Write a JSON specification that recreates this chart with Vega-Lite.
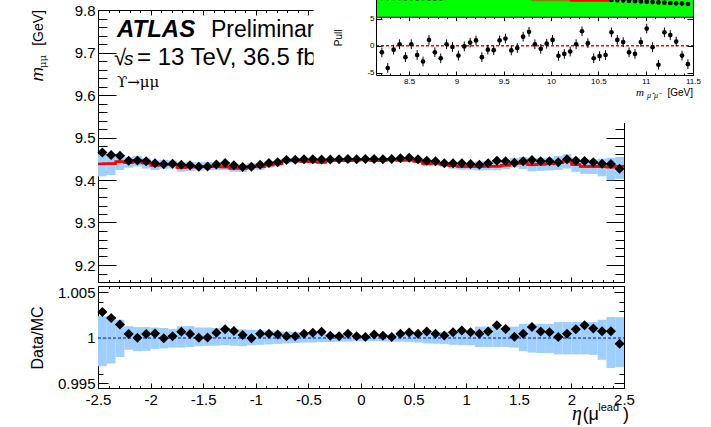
{
  "$schema": "https://vega.github.io/schema/vega-lite/v6.json",
  "width": 526,
  "height": 378,
  "autosize": "none",
  "padding": {"left": 98, "top": 10, "right": 87, "bottom": 39},
  "background": "white",
  "config": {
    "view": {"stroke": null},
    "axis": {"labelFont": "Liberation Sans", "labelColor": "#000", "domainColor": "#000", "tickColor": "#000", "grid": false, "labelFlush": false, "labelOverlap": false, "domainWidth": 1, "tickWidth": 1}
  },
  "datasets": {
    "bins": [
      {"eta": -2.4583, "lo": -2.5, "hi": -2.4167, "d": 9.465, "mc": 9.438, "blo": 9.4087, "bhi": 9.4607, "r": 1.00286, "rlo": 0.9969, "rhi": 1.0024},
      {"eta": -2.375, "lo": -2.4167, "hi": -2.3333, "d": 9.459, "mc": 9.4382, "blo": 9.4118, "bhi": 9.4609, "r": 1.0022, "rlo": 0.9972, "rhi": 1.0024},
      {"eta": -2.2917, "lo": -2.3333, "hi": -2.25, "d": 9.457, "mc": 9.4431, "blo": 9.4233, "bhi": 9.462, "r": 1.00147, "rlo": 0.9979, "rhi": 1.002},
      {"eta": -2.2083, "lo": -2.25, "hi": -2.1667, "d": 9.4454, "mc": 9.4412, "blo": 9.4289, "bhi": 9.4535, "r": 1.00045, "rlo": 0.9987, "rhi": 1.0013},
      {"eta": -2.125, "lo": -2.1667, "hi": -2.0833, "d": 9.446, "mc": 9.4456, "blo": 9.4319, "bhi": 9.4569, "r": 1.00004, "rlo": 0.99855, "rhi": 1.0012},
      {"eta": -2.0417, "lo": -2.0833, "hi": -2.0, "d": 9.4443, "mc": 9.4401, "blo": 9.4269, "bhi": 9.4514, "r": 1.00044, "rlo": 0.9986, "rhi": 1.0012},
      {"eta": -1.9583, "lo": -2.0, "hi": -1.9167, "d": 9.4393, "mc": 9.4346, "blo": 9.4233, "bhi": 9.4455, "r": 1.0005, "rlo": 0.9988, "rhi": 1.00115},
      {"eta": -1.875, "lo": -1.9167, "hi": -1.8333, "d": 9.437, "mc": 9.4373, "blo": 9.4264, "bhi": 9.4477, "r": 0.99997, "rlo": 0.99885, "rhi": 1.0011},
      {"eta": -1.7917, "lo": -1.8333, "hi": -1.75, "d": 9.4385, "mc": 9.4366, "blo": 9.4267, "bhi": 9.446, "r": 1.0002, "rlo": 0.99895, "rhi": 1.001},
      {"eta": -1.7083, "lo": -1.75, "hi": -1.6667, "d": 9.436, "mc": 9.4294, "blo": 9.4195, "bhi": 9.4417, "r": 1.0007, "rlo": 0.99895, "rhi": 1.0013},
      {"eta": -1.625, "lo": -1.6667, "hi": -1.5833, "d": 9.4347, "mc": 9.4305, "blo": 9.4211, "bhi": 9.4428, "r": 1.00045, "rlo": 0.999, "rhi": 1.0013},
      {"eta": -1.5417, "lo": -1.5833, "hi": -1.5, "d": 9.4313, "mc": 9.4309, "blo": 9.4224, "bhi": 9.4418, "r": 1.00004, "rlo": 0.9991, "rhi": 1.00115},
      {"eta": -1.4583, "lo": -1.5, "hi": -1.4167, "d": 9.432, "mc": 9.4315, "blo": 9.4235, "bhi": 9.4424, "r": 1.00005, "rlo": 0.99915, "rhi": 1.00115},
      {"eta": -1.375, "lo": -1.4167, "hi": -1.3333, "d": 9.4365, "mc": 9.4311, "blo": 9.4231, "bhi": 9.4415, "r": 1.00057, "rlo": 0.99915, "rhi": 1.0011},
      {"eta": -1.2917, "lo": -1.3333, "hi": -1.25, "d": 9.44, "mc": 9.4308, "blo": 9.4232, "bhi": 9.4412, "r": 1.00097, "rlo": 0.9992, "rhi": 1.0011},
      {"eta": -1.2083, "lo": -1.25, "hi": -1.1667, "d": 9.4347, "mc": 9.4274, "blo": 9.4194, "bhi": 9.4368, "r": 1.00077, "rlo": 0.99915, "rhi": 1.001},
      {"eta": -1.125, "lo": -1.1667, "hi": -1.0833, "d": 9.4306, "mc": 9.4275, "blo": 9.419, "bhi": 9.4365, "r": 1.00033, "rlo": 0.9991, "rhi": 1.00095},
      {"eta": -1.0417, "lo": -1.0833, "hi": -1.0, "d": 9.4313, "mc": 9.4316, "blo": 9.424, "bhi": 9.4401, "r": 0.99997, "rlo": 0.9992, "rhi": 1.0009},
      {"eta": -0.9583, "lo": -1.0, "hi": -0.9167, "d": 9.4357, "mc": 9.4312, "blo": 9.4241, "bhi": 9.4392, "r": 1.00048, "rlo": 0.99925, "rhi": 1.00085},
      {"eta": -0.875, "lo": -0.9167, "hi": -0.8333, "d": 9.44, "mc": 9.4355, "blo": 9.4289, "bhi": 9.4431, "r": 1.00048, "rlo": 0.9993, "rhi": 1.0008},
      {"eta": -0.7917, "lo": -0.8333, "hi": -0.75, "d": 9.442, "mc": 9.4384, "blo": 9.4323, "bhi": 9.4455, "r": 1.00038, "rlo": 0.99935, "rhi": 1.00075},
      {"eta": -0.7083, "lo": -0.75, "hi": -0.6667, "d": 9.447, "mc": 9.4451, "blo": 9.4394, "bhi": 9.4517, "r": 1.0002, "rlo": 0.9994, "rhi": 1.0007},
      {"eta": -0.625, "lo": -0.6667, "hi": -0.5833, "d": 9.4475, "mc": 9.4458, "blo": 9.4406, "bhi": 9.4519, "r": 1.00018, "rlo": 0.99945, "rhi": 1.00065},
      {"eta": -0.5417, "lo": -0.5833, "hi": -0.5, "d": 9.4486, "mc": 9.4441, "blo": 9.4394, "bhi": 9.4498, "r": 1.00048, "rlo": 0.9995, "rhi": 1.0006},
      {"eta": -0.4583, "lo": -0.5, "hi": -0.4167, "d": 9.4488, "mc": 9.4432, "blo": 9.4385, "bhi": 9.4484, "r": 1.00059, "rlo": 0.9995, "rhi": 1.00055},
      {"eta": -0.375, "lo": -0.4167, "hi": -0.3333, "d": 9.4483, "mc": 9.4417, "blo": 9.4375, "bhi": 9.4464, "r": 1.0007, "rlo": 0.99955, "rhi": 1.0005},
      {"eta": -0.2917, "lo": -0.3333, "hi": -0.25, "d": 9.448, "mc": 9.4457, "blo": 9.4415, "bhi": 9.4499, "r": 1.00024, "rlo": 0.99955, "rhi": 1.00045},
      {"eta": -0.2083, "lo": -0.25, "hi": -0.1667, "d": 9.4486, "mc": 9.4469, "blo": 9.4431, "bhi": 9.4511, "r": 1.00018, "rlo": 0.9996, "rhi": 1.00045},
      {"eta": -0.125, "lo": -0.1667, "hi": -0.0833, "d": 9.4496, "mc": 9.4453, "blo": 9.4415, "bhi": 9.4491, "r": 1.00046, "rlo": 0.9996, "rhi": 1.0004},
      {"eta": -0.0417, "lo": -0.0833, "hi": 0.0, "d": 9.449, "mc": 9.4473, "blo": 9.444, "bhi": 9.4506, "r": 1.00018, "rlo": 0.99965, "rhi": 1.00035},
      {"eta": 0.0417, "lo": 0.0, "hi": 0.0833, "d": 9.4494, "mc": 9.4484, "blo": 9.4451, "bhi": 9.4517, "r": 1.00011, "rlo": 0.99965, "rhi": 1.00035},
      {"eta": 0.125, "lo": 0.0833, "hi": 0.1667, "d": 9.4494, "mc": 9.4458, "blo": 9.4425, "bhi": 9.4491, "r": 1.00038, "rlo": 0.99965, "rhi": 1.00035},
      {"eta": 0.2083, "lo": 0.1667, "hi": 0.25, "d": 9.4486, "mc": 9.4462, "blo": 9.4427, "bhi": 9.4497, "r": 1.00025, "rlo": 0.99963, "rhi": 1.00037},
      {"eta": 0.2917, "lo": 0.25, "hi": 0.3333, "d": 9.4494, "mc": 9.4484, "blo": 9.4446, "bhi": 9.4522, "r": 1.00011, "rlo": 0.9996, "rhi": 1.0004},
      {"eta": 0.375, "lo": 0.3333, "hi": 0.4167, "d": 9.451, "mc": 9.4467, "blo": 9.4429, "bhi": 9.4507, "r": 1.00046, "rlo": 0.9996, "rhi": 1.00042},
      {"eta": 0.4583, "lo": 0.4167, "hi": 0.5, "d": 9.4525, "mc": 9.4468, "blo": 9.4426, "bhi": 9.451, "r": 1.0006, "rlo": 0.99955, "rhi": 1.00045},
      {"eta": 0.5417, "lo": 0.5, "hi": 0.5833, "d": 9.4486, "mc": 9.4443, "blo": 9.4396, "bhi": 9.449, "r": 1.00046, "rlo": 0.9995, "rhi": 1.0005},
      {"eta": 0.625, "lo": 0.5833, "hi": 0.6667, "d": 9.4454, "mc": 9.4386, "blo": 9.4329, "bhi": 9.4443, "r": 1.00072, "rlo": 0.9994, "rhi": 1.0006},
      {"eta": 0.7083, "lo": 0.6667, "hi": 0.75, "d": 9.444, "mc": 9.4395, "blo": 9.4336, "bhi": 9.4454, "r": 1.00048, "rlo": 0.99938, "rhi": 1.00062},
      {"eta": 0.7917, "lo": 0.75, "hi": 0.8333, "d": 9.4393, "mc": 9.4368, "blo": 9.4307, "bhi": 9.4429, "r": 1.00027, "rlo": 0.99935, "rhi": 1.00065},
      {"eta": 0.875, "lo": 0.8333, "hi": 0.9167, "d": 9.4393, "mc": 9.4333, "blo": 9.4262, "bhi": 9.4399, "r": 1.00064, "rlo": 0.99925, "rhi": 1.0007},
      {"eta": 0.9583, "lo": 0.9167, "hi": 1.0, "d": 9.4393, "mc": 9.4316, "blo": 9.4242, "bhi": 9.4387, "r": 1.00082, "rlo": 0.99922, "rhi": 1.00075},
      {"eta": 1.0417, "lo": 1.0, "hi": 1.0833, "d": 9.4376, "mc": 9.4316, "blo": 9.424, "bhi": 9.4392, "r": 1.00064, "rlo": 0.9992, "rhi": 1.0008},
      {"eta": 1.125, "lo": 1.0833, "hi": 1.1667, "d": 9.436, "mc": 9.4317, "blo": 9.4223, "bhi": 9.4435, "r": 1.00046, "rlo": 0.999, "rhi": 1.00125},
      {"eta": 1.2083, "lo": 1.1667, "hi": 1.25, "d": 9.4393, "mc": 9.4325, "blo": 9.4231, "bhi": 9.4443, "r": 1.00072, "rlo": 0.999, "rhi": 1.00125},
      {"eta": 1.2917, "lo": 1.25, "hi": 1.3333, "d": 9.4454, "mc": 9.4323, "blo": 9.4229, "bhi": 9.4441, "r": 1.00139, "rlo": 0.999, "rhi": 1.00125},
      {"eta": 1.375, "lo": 1.3333, "hi": 1.4167, "d": 9.444, "mc": 9.4347, "blo": 9.4253, "bhi": 9.4465, "r": 1.00099, "rlo": 0.999, "rhi": 1.00125},
      {"eta": 1.4583, "lo": 1.4167, "hi": 1.5, "d": 9.4407, "mc": 9.4395, "blo": 9.4296, "bhi": 9.4513, "r": 1.00013, "rlo": 0.99895, "rhi": 1.00125},
      {"eta": 1.5417, "lo": 1.5, "hi": 1.5833, "d": 9.444, "mc": 9.4395, "blo": 9.4258, "bhi": 9.4541, "r": 1.00048, "rlo": 0.99855, "rhi": 1.00155},
      {"eta": 1.625, "lo": 1.5833, "hi": 1.6667, "d": 9.447, "mc": 9.4356, "blo": 9.4205, "bhi": 9.4502, "r": 1.00121, "rlo": 0.9984, "rhi": 1.00155},
      {"eta": 1.7083, "lo": 1.6667, "hi": 1.75, "d": 9.444, "mc": 9.4372, "blo": 9.4216, "bhi": 9.4518, "r": 1.00072, "rlo": 0.99835, "rhi": 1.00155},
      {"eta": 1.7917, "lo": 1.75, "hi": 1.8333, "d": 9.444, "mc": 9.438, "blo": 9.4224, "bhi": 9.4526, "r": 1.00064, "rlo": 0.99835, "rhi": 1.00155},
      {"eta": 1.875, "lo": 1.8333, "hi": 1.9167, "d": 9.4416, "mc": 9.4406, "blo": 9.4236, "bhi": 9.4571, "r": 1.00011, "rlo": 0.9982, "rhi": 1.00175},
      {"eta": 1.9583, "lo": 1.9167, "hi": 2.0, "d": 9.4486, "mc": 9.4441, "blo": 9.4271, "bhi": 9.4606, "r": 1.00048, "rlo": 0.9982, "rhi": 1.00175},
      {"eta": 2.0417, "lo": 2.0, "hi": 2.0833, "d": 9.4454, "mc": 9.4363, "blo": 9.4193, "bhi": 9.4528, "r": 1.00097, "rlo": 0.9982, "rhi": 1.00175},
      {"eta": 2.125, "lo": 2.0833, "hi": 2.1667, "d": 9.4447, "mc": 9.4316, "blo": 9.4146, "bhi": 9.4481, "r": 1.00139, "rlo": 0.9982, "rhi": 1.00175},
      {"eta": 2.2083, "lo": 2.1667, "hi": 2.25, "d": 9.4416, "mc": 9.4317, "blo": 9.4142, "bhi": 9.4482, "r": 1.00105, "rlo": 0.99815, "rhi": 1.00175},
      {"eta": 2.2917, "lo": 2.25, "hi": 2.3333, "d": 9.4384, "mc": 9.4313, "blo": 9.4086, "bhi": 9.4502, "r": 1.00075, "rlo": 0.9976, "rhi": 1.002},
      {"eta": 2.375, "lo": 2.3333, "hi": 2.4167, "d": 9.4376, "mc": 9.4305, "blo": 9.3993, "bhi": 9.4522, "r": 1.00075, "rlo": 0.9967, "rhi": 1.0023},
      {"eta": 2.4583, "lo": 2.4167, "hi": 2.5, "d": 9.4266, "mc": 9.4325, "blo": 9.4023, "bhi": 9.4542, "r": 0.99938, "rlo": 0.9968, "rhi": 1.0023}
    ],
    "pull": [
      {"x": 8.212, "p": -1.2, "e": 0.9}, {"x": 8.274, "p": -4.1, "e": 0.9}, {"x": 8.336, "p": -0.7, "e": 0.9},
      {"x": 8.399, "p": 0.3, "e": 0.9}, {"x": 8.461, "p": -2.1, "e": 0.9}, {"x": 8.523, "p": 0.3, "e": 0.9},
      {"x": 8.585, "p": -1.7, "e": 0.9}, {"x": 8.647, "p": -2.9, "e": 0.9}, {"x": 8.71, "p": 1.1, "e": 0.9},
      {"x": 8.772, "p": -1.2, "e": 0.9}, {"x": 8.834, "p": -2.3, "e": 0.9}, {"x": 8.896, "p": 0.3, "e": 0.9},
      {"x": 8.958, "p": -0.2, "e": 0.9}, {"x": 9.021, "p": -1.8, "e": 0.9}, {"x": 9.083, "p": -0.1, "e": 0.9},
      {"x": 9.145, "p": 0.6, "e": 0.9}, {"x": 9.207, "p": 1.0, "e": 0.9}, {"x": 9.269, "p": -2.1, "e": 0.9},
      {"x": 9.332, "p": -0.7, "e": 0.9}, {"x": 9.394, "p": -0.8, "e": 0.9}, {"x": 9.456, "p": 1.0, "e": 0.9},
      {"x": 9.518, "p": 1.35, "e": 0.9}, {"x": 9.58, "p": -0.85, "e": 0.9}, {"x": 9.643, "p": -0.4, "e": 0.9},
      {"x": 9.705, "p": 1.7, "e": 0.9}, {"x": 9.767, "p": 2.6, "e": 0.9}, {"x": 9.829, "p": 0.3, "e": 0.9},
      {"x": 9.891, "p": -0.55, "e": 0.9}, {"x": 9.954, "p": 0.4, "e": 0.9}, {"x": 10.016, "p": 1.1, "e": 0.9},
      {"x": 10.078, "p": -1.85, "e": 0.9}, {"x": 10.14, "p": -1.5, "e": 0.9}, {"x": 10.202, "p": -1.05, "e": 0.9},
      {"x": 10.265, "p": 0.3, "e": 0.9}, {"x": 10.327, "p": 2.7, "e": 0.9}, {"x": 10.389, "p": 0.5, "e": 0.9},
      {"x": 10.451, "p": -2.3, "e": 0.9}, {"x": 10.513, "p": -1.9, "e": 0.9}, {"x": 10.576, "p": -1.7, "e": 0.9},
      {"x": 10.638, "p": 2.5, "e": 0.9}, {"x": 10.7, "p": 1.1, "e": 0.9}, {"x": 10.762, "p": 0.7, "e": 0.9},
      {"x": 10.824, "p": -1.2, "e": 0.9}, {"x": 10.887, "p": -1.5, "e": 0.9}, {"x": 10.949, "p": 0.7, "e": 0.9},
      {"x": 11.011, "p": 3.2, "e": 0.9}, {"x": 11.073, "p": -0.25, "e": 0.9}, {"x": 11.135, "p": -3.5, "e": 0.9},
      {"x": 11.198, "p": 2.5, "e": 0.9}, {"x": 11.26, "p": 2.0, "e": 0.9}, {"x": 11.322, "p": 0.8, "e": 0.9},
      {"x": 11.384, "p": -1.8, "e": 0.9}, {"x": 11.446, "p": -3.4, "e": 0.9}
    ],
    "mass": [
      {"x": 8.212, "n": 94}, {"x": 8.274, "n": 93}, {"x": 8.336, "n": 94}, {"x": 8.399, "n": 93},
      {"x": 8.461, "n": 92}, {"x": 8.523, "n": 93}, {"x": 8.585, "n": 92}, {"x": 8.647, "n": 93},
      {"x": 8.71, "n": 92}, {"x": 8.772, "n": 91}, {"x": 8.834, "n": 92}, {"x": 8.896, "n": 100},
      {"x": 8.958, "n": 110}, {"x": 9.021, "n": 125}, {"x": 9.083, "n": 150}, {"x": 9.145, "n": 200},
      {"x": 9.207, "n": 300}, {"x": 9.269, "n": 450}, {"x": 9.332, "n": 600}, {"x": 9.394, "n": 700},
      {"x": 9.456, "n": 650}, {"x": 9.518, "n": 500}, {"x": 9.58, "n": 350}, {"x": 9.643, "n": 260},
      {"x": 9.705, "n": 220}, {"x": 9.767, "n": 250}, {"x": 9.829, "n": 320}, {"x": 9.891, "n": 350},
      {"x": 9.954, "n": 300}, {"x": 10.016, "n": 220}, {"x": 10.078, "n": 180}, {"x": 10.14, "n": 170},
      {"x": 10.202, "n": 200}, {"x": 10.265, "n": 230}, {"x": 10.327, "n": 190}, {"x": 10.389, "n": 140},
      {"x": 10.451, "n": 110}, {"x": 10.513, "n": 100}, {"x": 10.576, "n": 95}, {"x": 10.638, "n": 83.5},
      {"x": 10.7, "n": 82}, {"x": 10.762, "n": 80.5}, {"x": 10.824, "n": 79}, {"x": 10.887, "n": 77.5},
      {"x": 10.949, "n": 76}, {"x": 11.011, "n": 74.5}, {"x": 11.073, "n": 73}, {"x": 11.135, "n": 71.5},
      {"x": 11.198, "n": 70}, {"x": 11.26, "n": 68.5}, {"x": 11.322, "n": 67}, {"x": 11.384, "n": 65.5},
      {"x": 11.446, "n": 63.5}
    ]
  },
  "layer": [
    {
      "data": {"name": "bins"},
      "layer": [
        {
          "mark": {"type": "rect", "color": "#9ecfff"},
          "encoding": {
            "x": {"field": "lo", "type": "quantitative", "scale": {"domain": [-2.5, 2.5], "range": [0, 526], "nice": false, "zero": false},
                  "axis": {"orient": "bottom", "offset": -106, "values": [-2.5, -2, -1.5, -1, -0.5, 0, 0.5, 1, 1.5, 2, 2.5], "tickSize": -5, "labels": false, "domain": true, "title": null, "zindex": 0}},
            "x2": {"field": "hi"},
            "y": {"field": "blo", "type": "quantitative", "scale": {"domain": [9.16, 9.8], "range": [272, 0], "nice": false, "zero": false},
                  "axis": {"orient": "left", "values": [9.2, 9.3, 9.4, 9.5, 9.6, 9.7, 9.8], "ticks": false, "labelPadding": 3, "labelFontSize": 15, "format": ".1f", "domain": true, "title": null, "zindex": 0}},
            "y2": {"field": "bhi"}
          }
        },
        {
          "mark": {"type": "line", "color": "#ff0000", "strokeWidth": 2.5, "interpolate": "step"},
          "encoding": {
            "x": {"field": "eta", "type": "quantitative",
                  "axis": {"orient": "bottom", "offset": -106, "values": [-2.5, -2.4, -2.3, -2.2, -2.1, -2, -1.9, -1.8, -1.7, -1.6, -1.5, -1.4, -1.3, -1.2, -1.1, -1, -0.9, -0.8, -0.7, -0.6, -0.5, -0.4, -0.3, -0.2, -0.1, 0, 0.1, 0.2, 0.3, 0.4, 0.5, 0.6, 0.7, 0.8, 0.9, 1, 1.1, 1.2, 1.3, 1.4, 1.5, 1.6, 1.7, 1.8, 1.9, 2, 2.1, 2.2, 2.3, 2.4, 2.5], "tickSize": -2.5, "labels": false, "domain": false, "title": null, "zindex": 0}},
            "y": {"field": "mc", "type": "quantitative",
                  "axis": {"orient": "left", "values": [9.2, 9.3, 9.4, 9.5, 9.6, 9.7, 9.8], "tickSize": -18, "labels": false, "domain": false, "title": null, "zindex": 0}}
          }
        },
        {
          "mark": {"type": "rule", "color": "#ff0000", "strokeWidth": 2.5},
          "encoding": {
            "x": {"field": "lo", "type": "quantitative",
                  "axis": {"orient": "top", "values": [-2.5, -2, -1.5, -1, -0.5, 0, 0.5, 1, 1.5, 2, 2.5], "tickSize": -5, "labels": false, "domain": true, "title": null, "zindex": 0}},
            "x2": {"field": "hi"},
            "y": {"field": "mc", "type": "quantitative",
                  "axis": {"orient": "left", "values": [9.16, 9.18, 9.2, 9.22, 9.24, 9.26, 9.28, 9.3, 9.32, 9.34, 9.36, 9.38, 9.4, 9.42, 9.44, 9.46, 9.48, 9.5, 9.52, 9.54, 9.56, 9.58, 9.6, 9.62, 9.64, 9.66, 9.68, 9.7, 9.72, 9.74, 9.76, 9.78, 9.8], "tickSize": -9, "labels": false, "domain": false, "title": null, "zindex": 0}}
          }
        },
        {
          "mark": {"type": "rule", "color": "#000000", "strokeWidth": 1.2},
          "encoding": {
            "x": {"field": "lo", "type": "quantitative",
                  "axis": {"orient": "top", "values": [-2.5, -2.4, -2.3, -2.2, -2.1, -2, -1.9, -1.8, -1.7, -1.6, -1.5, -1.4, -1.3, -1.2, -1.1, -1, -0.9, -0.8, -0.7, -0.6, -0.5, -0.4, -0.3, -0.2, -0.1, 0, 0.1, 0.2, 0.3, 0.4, 0.5, 0.6, 0.7, 0.8, 0.9, 1, 1.1, 1.2, 1.3, 1.4, 1.5, 1.6, 1.7, 1.8, 1.9, 2, 2.1, 2.2, 2.3, 2.4, 2.5], "tickSize": -2.5, "labels": false, "domain": false, "title": null, "zindex": 0}},
            "x2": {"field": "hi"},
            "y": {"field": "d", "type": "quantitative",
                  "axis": {"orient": "right", "values": [9.2, 9.3, 9.4, 9.5, 9.6, 9.7, 9.8], "tickSize": -18, "labels": false, "domain": true, "title": null, "zindex": 0}}
          }
        },
        {
          "mark": {"type": "point", "shape": "diamond", "filled": true, "size": 100, "color": "#000000", "opacity": 1},
          "encoding": {
            "x": {"field": "eta", "type": "quantitative", "axis": null},
            "y": {"field": "d", "type": "quantitative",
                  "axis": {"orient": "right", "values": [9.16, 9.18, 9.2, 9.22, 9.24, 9.26, 9.28, 9.3, 9.32, 9.34, 9.36, 9.38, 9.4, 9.42, 9.44, 9.46, 9.48, 9.5, 9.52, 9.54, 9.56, 9.58, 9.6, 9.62, 9.64, 9.66, 9.68, 9.7, 9.72, 9.74, 9.76, 9.78, 9.8], "tickSize": -9, "labels": false, "domain": false, "title": null, "zindex": 0}}
          }
        },
        {
          "data": {"values": [{"t": "ATLAS"}]},
          "mark": {"type": "text", "align": "left", "baseline": "alphabetic", "dx": 19, "dy": 27, "font": "Liberation Sans", "fontSize": 24, "fontWeight": "bold", "fontStyle": "italic", "color": "#000"},
          "encoding": {"x": {"datum": -2.5, "type": "quantitative", "axis": null}, "y": {"datum": 9.8, "type": "quantitative", "axis": null}, "text": {"field": "t"}}
        },
        {
          "data": {"values": [{"t": "Preliminary"}]},
          "mark": {"type": "text", "align": "left", "baseline": "alphabetic", "dx": 113, "dy": 27, "font": "Liberation Sans", "fontSize": 23, "color": "#000"},
          "encoding": {"x": {"datum": -2.5, "type": "quantitative", "axis": null}, "y": {"datum": 9.8, "type": "quantitative", "axis": null}, "text": {"field": "t"}}
        },
        {
          "data": {"values": [{"t": "√"}]},
          "mark": {"type": "text", "align": "left", "baseline": "alphabetic", "dx": 16, "dy": 55, "font": "Liberation Sans", "fontSize": 22, "color": "#000"},
          "encoding": {"x": {"datum": -2.5, "type": "quantitative", "axis": null}, "y": {"datum": 9.8, "type": "quantitative", "axis": null}, "text": {"field": "t"}}
        },
        {
          "data": {"values": [{"t": "s"}]},
          "mark": {"type": "text", "align": "left", "baseline": "alphabetic", "dx": 26, "dy": 55, "font": "Liberation Sans", "fontSize": 19, "fontStyle": "italic", "color": "#000"},
          "encoding": {"x": {"datum": -2.5, "type": "quantitative", "axis": null}, "y": {"datum": 9.8, "type": "quantitative", "axis": null}, "text": {"field": "t"}}
        },
        {
          "data": {"values": [{"t": "= 13 TeV, 36.5 fb⁻¹"}]},
          "mark": {"type": "text", "align": "left", "baseline": "alphabetic", "dx": 39, "dy": 55, "font": "Liberation Sans", "fontSize": 24, "color": "#000"},
          "encoding": {"x": {"datum": -2.5, "type": "quantitative", "axis": null}, "y": {"datum": 9.8, "type": "quantitative", "axis": null}, "text": {"field": "t"}}
        },
        {
          "data": {"values": [{"t": "ϒ→μμ"}]},
          "mark": {"type": "text", "align": "left", "baseline": "alphabetic", "dx": 19, "dy": 77, "font": "DejaVu Serif", "fontSize": 15, "color": "#000"},
          "encoding": {"x": {"datum": -2.5, "type": "quantitative", "axis": null}, "y": {"datum": 9.8, "type": "quantitative", "axis": null}, "text": {"field": "t"}}
        },
        {
          "data": {"values": [{"t": "[GeV]"}]},
          "mark": {"type": "text", "align": "right", "baseline": "alphabetic", "angle": 270, "dx": 0, "dy": -55, "font": "Liberation Sans", "fontSize": 14, "color": "#000"},
          "encoding": {"x": {"datum": -2.5, "type": "quantitative", "axis": null}, "y": {"datum": 9.8, "type": "quantitative", "axis": null}, "text": {"field": "t"}}
        },
        {
          "data": {"values": [{"t": "μμ"}]},
          "mark": {"type": "text", "align": "right", "baseline": "alphabetic", "angle": 270, "dx": -45, "dy": -52, "font": "DejaVu Serif", "fontSize": 10, "color": "#000"},
          "encoding": {"x": {"datum": -2.5, "type": "quantitative", "axis": null}, "y": {"datum": 9.8, "type": "quantitative", "axis": null}, "text": {"field": "t"}}
        },
        {
          "data": {"values": [{"t": "m"}]},
          "mark": {"type": "text", "align": "right", "baseline": "alphabetic", "angle": 270, "dx": -57, "dy": -55, "font": "Liberation Sans", "fontSize": 17, "fontStyle": "italic", "color": "#000"},
          "encoding": {"x": {"datum": -2.5, "type": "quantitative", "axis": null}, "y": {"datum": 9.8, "type": "quantitative", "axis": null}, "text": {"field": "t"}}
        }
      ],
      "resolve": {"axis": {"x": "independent", "y": "independent"}}
    },
    {
      "data": {"name": "bins"},
      "layer": [
        {
          "mark": {"type": "rect", "color": "#9ecfff"},
          "encoding": {
            "x": {"field": "lo", "type": "quantitative", "scale": {"domain": [-2.5, 2.5], "range": [0, 526], "nice": false, "zero": false},
                  "axis": {"orient": "bottom", "values": [-2.5, -2, -1.5, -1, -0.5, 0, 0.5, 1, 1.5, 2, 2.5], "ticks": false, "labelPadding": 4, "labelFontSize": 15, "labelExpr": "datum.value < 0 ? '-' + format(-datum.value, '~g') : format(datum.value, '~g')", "domain": true, "title": null, "zindex": 0}},
            "x2": {"field": "hi"},
            "y": {"field": "rlo", "type": "quantitative", "scale": {"domain": [0.994505, 1.005714], "range": [378, 276], "nice": false, "zero": false},
                  "axis": {"orient": "left", "values": [0.995, 1, 1.005], "ticks": false, "labelPadding": 3, "labelFontSize": 15, "format": "~g", "domain": true, "title": null, "zindex": 0}},
            "y2": {"field": "rhi"}
          }
        },
        {
          "data": {"values": [{"t": "unity"}]},
          "mark": {"type": "rule", "color": "#2a4dff", "strokeWidth": 1.5, "strokeDash": [3, 2]},
          "encoding": {
            "x": {"datum": -2.5, "type": "quantitative",
                  "axis": {"orient": "bottom", "values": [-2.5, -2, -1.5, -1, -0.5, 0, 0.5, 1, 1.5, 2, 2.5], "tickSize": -5, "labels": false, "domain": false, "title": null, "zindex": 0}},
            "x2": {"datum": 2.5},
            "y": {"datum": 1, "type": "quantitative",
                  "axis": {"orient": "left", "values": [0.995, 1, 1.005], "tickSize": -10, "labels": false, "domain": false, "title": null, "zindex": 0}}
          }
        },
        {
          "mark": {"type": "rule", "color": "#000000", "strokeWidth": 1.2},
          "encoding": {
            "x": {"field": "lo", "type": "quantitative",
                  "axis": {"orient": "bottom", "values": [-2.5, -2.4, -2.3, -2.2, -2.1, -2, -1.9, -1.8, -1.7, -1.6, -1.5, -1.4, -1.3, -1.2, -1.1, -1, -0.9, -0.8, -0.7, -0.6, -0.5, -0.4, -0.3, -0.2, -0.1, 0, 0.1, 0.2, 0.3, 0.4, 0.5, 0.6, 0.7, 0.8, 0.9, 1, 1.1, 1.2, 1.3, 1.4, 1.5, 1.6, 1.7, 1.8, 1.9, 2, 2.1, 2.2, 2.3, 2.4, 2.5], "tickSize": -2.5, "labels": false, "domain": false, "title": null, "zindex": 0}},
            "x2": {"field": "hi"},
            "y": {"field": "r", "type": "quantitative",
                  "axis": {"orient": "left", "values": [0.995, 0.996, 0.997, 0.998, 0.999, 1, 1.001, 1.002, 1.003, 1.004, 1.005], "tickSize": -5, "labels": false, "domain": false, "title": null, "zindex": 0}}
          }
        },
        {
          "mark": {"type": "point", "shape": "diamond", "filled": true, "size": 100, "color": "#000000", "opacity": 1},
          "encoding": {
            "x": {"field": "eta", "type": "quantitative",
                  "axis": {"orient": "top", "offset": -276, "values": [-2.5, -2, -1.5, -1, -0.5, 0, 0.5, 1, 1.5, 2, 2.5], "tickSize": -5, "labels": false, "domain": true, "title": null, "zindex": 0}},
            "y": {"field": "r", "type": "quantitative",
                  "axis": {"orient": "right", "values": [0.995, 1, 1.005], "tickSize": -10, "labels": false, "domain": true, "title": null, "zindex": 0}}
          }
        },
        {
          "data": {"values": [{"t": "Data/MC"}]},
          "mark": {"type": "text", "align": "center", "baseline": "alphabetic", "angle": 270, "dx": 0, "dy": -55, "font": "Liberation Sans", "fontSize": 16, "color": "#000"},
          "encoding": {
            "x": {"datum": -2.5, "type": "quantitative",
                  "axis": {"orient": "top", "offset": -276, "values": [-2.5, -2.4, -2.3, -2.2, -2.1, -2, -1.9, -1.8, -1.7, -1.6, -1.5, -1.4, -1.3, -1.2, -1.1, -1, -0.9, -0.8, -0.7, -0.6, -0.5, -0.4, -0.3, -0.2, -0.1, 0, 0.1, 0.2, 0.3, 0.4, 0.5, 0.6, 0.7, 0.8, 0.9, 1, 1.1, 1.2, 1.3, 1.4, 1.5, 1.6, 1.7, 1.8, 1.9, 2, 2.1, 2.2, 2.3, 2.4, 2.5], "tickSize": -2.5, "labels": false, "domain": false, "title": null, "zindex": 0}},
            "y": {"datum": 1, "type": "quantitative",
                  "axis": {"orient": "right", "values": [0.995, 0.996, 0.997, 0.998, 0.999, 1, 1.001, 1.002, 1.003, 1.004, 1.005], "tickSize": -5, "labels": false, "domain": false, "title": null, "zindex": 0}},
            "text": {"field": "t"}
          }
        },
        {
          "data": {"values": [{"t": ")"}]},
          "mark": {"type": "text", "align": "right", "baseline": "alphabetic", "dx": 5, "dy": 32, "font": "Liberation Sans", "fontSize": 18, "color": "#000"},
          "encoding": {"x": {"datum": 2.5, "type": "quantitative", "axis": null}, "y": {"datum": 0.994505, "type": "quantitative", "axis": null}, "text": {"field": "t"}}
        },
        {
          "data": {"values": [{"t": "lead"}]},
          "mark": {"type": "text", "align": "right", "baseline": "alphabetic", "dx": -5, "dy": 23, "font": "Liberation Sans", "fontSize": 11, "color": "#000"},
          "encoding": {"x": {"datum": 2.5, "type": "quantitative", "axis": null}, "y": {"datum": 0.994505, "type": "quantitative", "axis": null}, "text": {"field": "t"}}
        },
        {
          "data": {"values": [{"t": "(μ"}]},
          "mark": {"type": "text", "align": "right", "baseline": "alphabetic", "dx": -25, "dy": 32, "font": "Liberation Sans", "fontSize": 18, "color": "#000"},
          "encoding": {"x": {"datum": 2.5, "type": "quantitative", "axis": null}, "y": {"datum": 0.994505, "type": "quantitative", "axis": null}, "text": {"field": "t"}}
        },
        {
          "data": {"values": [{"t": "η"}]},
          "mark": {"type": "text", "align": "right", "baseline": "alphabetic", "dx": -42, "dy": 32, "font": "Liberation Serif", "fontSize": 20, "fontStyle": "italic", "color": "#000"},
          "encoding": {"x": {"datum": 2.5, "type": "quantitative", "axis": null}, "y": {"datum": 0.994505, "type": "quantitative", "axis": null}, "text": {"field": "t"}}
        }
      ],
      "resolve": {"axis": {"x": "independent", "y": "independent"}}
    },
    {
      "layer": [
        {
          "data": {"values": [{"t": "inset"}]},
          "mark": {"type": "rect", "color": "#ffffff"},
          "encoding": {
            "x": {"datum": 7.49, "type": "quantitative", "scale": {"domain": [8.15, 11.5], "range": [278, 595], "nice": false, "zero": false}, "axis": null},
            "x2": {"datum": 11.7},
            "y": {"datum": -14.3, "type": "quantitative", "scale": {"domain": [-5.4, 5.4], "range": [65, 6.7], "nice": false, "zero": false}, "axis": null},
            "y2": {"datum": 8.5}
          }
        },
        {
          "layer": [
            {
              "data": {"values": [{"t": "fit"}]},
              "mark": {"type": "rect", "color": "#00ff00"},
              "encoding": {
                "x": {"datum": 8.15, "type": "quantitative", "scale": {"domain": [8.15, 11.5], "range": [278, 595], "nice": false, "zero": false}, "axis": null},
                "x2": {"datum": 11.5},
                "y": {"datum": 0, "type": "quantitative", "scale": {"domain": [0, 1000], "range": [6.7, -193.3], "nice": false, "zero": false},
                      "axis": {"orient": "left", "offset": -278, "ticks": false, "labels": false, "domain": true, "title": null, "zindex": 1}},
                "y2": {"datum": 1000}
              }
            },
            {
              "data": {"values": [{"t": "peak"}]},
              "mark": {"type": "rect", "color": "#8a7a10"},
              "encoding": {
                "x": {"datum": 9.79, "type": "quantitative", "axis": null},
                "x2": {"datum": 10.2},
                "y": {"datum": 77, "type": "quantitative",
                      "axis": {"orient": "right", "offset": 69, "ticks": false, "labels": false, "domain": true, "title": null, "zindex": 1}},
                "y2": {"datum": 1000}
              }
            },
            {
              "data": {"values": [{"t": "peak"}]},
              "mark": {"type": "rect", "color": "#ff0000"},
              "encoding": {
                "x": {"datum": 10.2, "type": "quantitative", "axis": null},
                "x2": {"datum": 10.62},
                "y": {"datum": 75, "type": "quantitative", "axis": null},
                "y2": {"datum": 1000}
              }
            },
            {
              "data": {"name": "mass"},
              "mark": {"type": "circle", "size": 22, "color": "#000000", "opacity": 1},
              "encoding": {
                "x": {"field": "x", "type": "quantitative", "axis": null},
                "y": {"field": "n", "type": "quantitative", "axis": null}
              }
            }
          ],
          "resolve": {"axis": {"x": "independent", "y": "independent"}}
        },
        {
          "layer": [
            {
              "data": {"values": [{"t": "zero"}]},
              "mark": {"type": "rule", "color": "#ff0000", "strokeWidth": 1.5, "strokeDash": [3, 2]},
              "encoding": {
                "x": {"datum": 8.15, "type": "quantitative", "scale": {"domain": [8.15, 11.5], "range": [278, 595], "nice": false, "zero": false},
                      "axis": {"orient": "bottom", "offset": -313, "values": [8.5, 9, 9.5, 10, 10.5, 11, 11.5], "ticks": false, "labelPadding": 2, "labelFontSize": 8, "format": "~g", "domain": true, "title": null, "zindex": 1}},
                "x2": {"datum": 11.5},
                "y": {"datum": 0, "type": "quantitative", "scale": {"domain": [-5.4, 5.4], "range": [65, 6.7], "nice": false, "zero": false},
                      "axis": {"orient": "left", "offset": -278, "values": [-5, 0, 5], "ticks": false, "labelPadding": 2, "labelFontSize": 8, "labelExpr": "datum.value < 0 ? '-' + format(-datum.value, '~g') : format(datum.value, '~g')", "domain": true, "title": null, "zindex": 1}}
              }
            },
            {
              "data": {"name": "pull"},
              "mark": {"type": "errorbar", "ticks": false, "color": "#000000", "thickness": 1},
              "encoding": {
                "x": {"field": "x", "type": "quantitative",
                      "axis": {"orient": "bottom", "offset": -313, "values": [8.5, 9, 9.5, 10, 10.5, 11, 11.5], "tickSize": -4, "labels": false, "domain": false, "title": null, "zindex": 1}},
                "y": {"field": "p", "type": "quantitative",
                      "axis": {"orient": "left", "offset": -278, "values": [-5, 0, 5], "tickSize": -6, "labels": false, "domain": false, "title": null, "zindex": 1}},
                "yError": {"field": "e"}
              }
            },
            {
              "data": {"name": "pull"},
              "mark": {"type": "circle", "size": 22, "color": "#000000", "opacity": 1},
              "encoding": {
                "x": {"field": "x", "type": "quantitative",
                      "axis": {"orient": "bottom", "offset": -313, "values": [8.2, 8.3, 8.4, 8.5, 8.6, 8.7, 8.8, 8.9, 9, 9.1, 9.2, 9.3, 9.4, 9.5, 9.6, 9.7, 9.8, 9.9, 10, 10.1, 10.2, 10.3, 10.4, 10.5, 10.6, 10.7, 10.8, 10.9, 11, 11.1, 11.2, 11.3, 11.4, 11.5], "tickSize": -2, "labels": false, "domain": false, "title": null, "zindex": 1}},
                "y": {"field": "p", "type": "quantitative",
                      "axis": {"orient": "right", "offset": 69, "values": [-5, 0, 5], "tickSize": -6, "labels": false, "domain": true, "title": null, "zindex": 1}}
              }
            },
            {
              "data": {"values": [{"t": "Pull"}]},
              "mark": {"type": "text", "align": "center", "baseline": "alphabetic", "angle": 270, "dx": 8, "dy": -34, "font": "Liberation Sans", "fontSize": 10, "color": "#000"},
              "encoding": {
                "x": {"datum": 8.15, "type": "quantitative",
                      "axis": {"orient": "top", "offset": -6.7, "values": [8.5, 9, 9.5, 10, 10.5, 11, 11.5], "tickSize": -4, "labels": false, "domain": true, "title": null, "zindex": 1}},
                "y": {"datum": 0, "type": "quantitative", "axis": null},
                "text": {"field": "t"}
              }
            },
            {
              "data": {"values": [{"t": "[GeV]"}]},
              "mark": {"type": "text", "align": "right", "baseline": "alphabetic", "dx": 0, "dy": 21, "font": "Liberation Sans", "fontSize": 10, "color": "#000"},
              "encoding": {
                "x": {"datum": 11.5, "type": "quantitative",
                      "axis": {"orient": "top", "offset": -6.7, "values": [8.2, 8.3, 8.4, 8.5, 8.6, 8.7, 8.8, 8.9, 9, 9.1, 9.2, 9.3, 9.4, 9.5, 9.6, 9.7, 9.8, 9.9, 10, 10.1, 10.2, 10.3, 10.4, 10.5, 10.6, 10.7, 10.8, 10.9, 11, 11.1, 11.2, 11.3, 11.4, 11.5], "tickSize": -2, "labels": false, "domain": false, "title": null, "zindex": 1}},
                "y": {"datum": -5.4, "type": "quantitative", "axis": null},
                "text": {"field": "t"}
              }
            },
            {
              "data": {"values": [{"t": "μ⁺μ⁻"}]},
              "mark": {"type": "text", "align": "right", "baseline": "alphabetic", "dx": -32, "dy": 23, "font": "Liberation Serif", "fontSize": 8, "fontStyle": "italic", "color": "#000"},
              "encoding": {"x": {"datum": 11.5, "type": "quantitative", "axis": null}, "y": {"datum": -5.4, "type": "quantitative", "axis": null}, "text": {"field": "t"}}
            },
            {
              "data": {"values": [{"t": "m"}]},
              "mark": {"type": "text", "align": "right", "baseline": "alphabetic", "dx": -49, "dy": 21, "font": "Liberation Serif", "fontSize": 11, "fontStyle": "italic", "color": "#000"},
              "encoding": {"x": {"datum": 11.5, "type": "quantitative", "axis": null}, "y": {"datum": -5.4, "type": "quantitative", "axis": null}, "text": {"field": "t"}}
            }
          ],
          "resolve": {"axis": {"x": "independent", "y": "independent"}}
        }
      ],
      "resolve": {"scale": {"y": "independent"}, "axis": {"x": "independent", "y": "independent"}}
    }
  ],
  "resolve": {"scale": {"x": "independent", "y": "independent"}, "axis": {"x": "independent", "y": "independent"}}
}
